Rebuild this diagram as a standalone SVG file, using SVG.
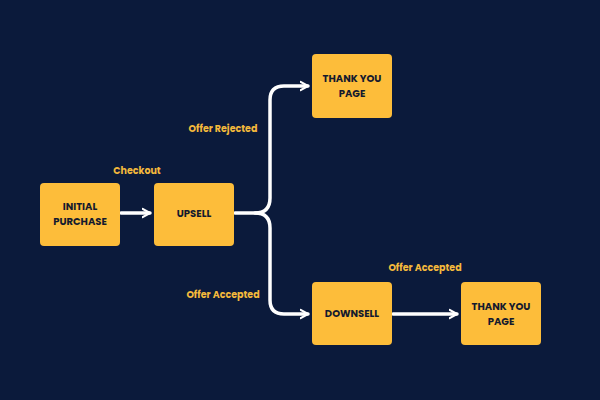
<svg xmlns="http://www.w3.org/2000/svg" width="600" height="400" viewBox="0 0 600 400">
<style>
.box{fill:#fdbd3a;}
.t{font-family:Poppins,"Liberation Sans",Arial,sans-serif;font-weight:bold;font-size:10px;fill:#141a2e;text-anchor:middle;}
.l{font-family:Poppins,"Liberation Sans",Arial,sans-serif;font-weight:bold;font-size:9.5px;fill:#f4b93c;text-anchor:middle;}
.c{fill:none;stroke:#fff;stroke-width:3.5;stroke-linecap:round;stroke-linejoin:round;}
</style>
<defs><marker id="a" viewBox="0 0 10 10" refX="8" refY="5" markerWidth="3" markerHeight="3.5" orient="auto" markerUnits="strokeWidth"><path d="M1,1 L8,5 L1,9" fill="none" stroke="#fff" stroke-width="2" stroke-linecap="round" stroke-linejoin="round"/></marker></defs>
<rect width="600" height="400" fill="#0b1a3b"/>
<g id="connectors">
<path class="c" d="M121,213 H150" marker-end="url(#a)"/>
<path class="c" d="M235,213 H255 Q270,213 270,198 V100 Q270,86 284,86 H308" marker-end="url(#a)"/>
<path class="c" d="M255,213 Q270,213 270,228 V300 Q270,314 284,314 H308" marker-end="url(#a)"/>
<path class="c" d="M393,314 H457" marker-end="url(#a)"/>
</g>
<g id="labels">
<text class="l" x="137" y="174">Checkout</text>
<text class="l" x="223" y="132">Offer Rejected</text>
<text class="l" x="223" y="298">Offer Accepted</text>
<text class="l" x="425" y="271">Offer Accepted</text>
</g>
<g id="initial"><rect class="box" x="40" y="183" width="80" height="63" rx="4"/><text class="t" x="80" y="210">INITIAL</text><text class="t" x="80" y="224.5">PURCHASE</text></g>
<g id="upsell"><rect class="box" x="154" y="183" width="80" height="63" rx="4"/><text class="t" x="194" y="217">UPSELL</text></g>
<g id="thankyou1"><rect class="box" x="312" y="54" width="80" height="64" rx="4"/><text class="t" x="352" y="82">THANK YOU</text><text class="t" x="352" y="96.5">PAGE</text></g>
<g id="downsell"><rect class="box" x="312" y="282" width="80" height="63" rx="4"/><text class="t" x="352" y="317">DOWNSELL</text></g>
<g id="thankyou2"><rect class="box" x="461" y="282" width="80" height="63" rx="4"/><text class="t" x="501" y="310">THANK YOU</text><text class="t" x="501" y="324.5">PAGE</text></g>
</svg>
